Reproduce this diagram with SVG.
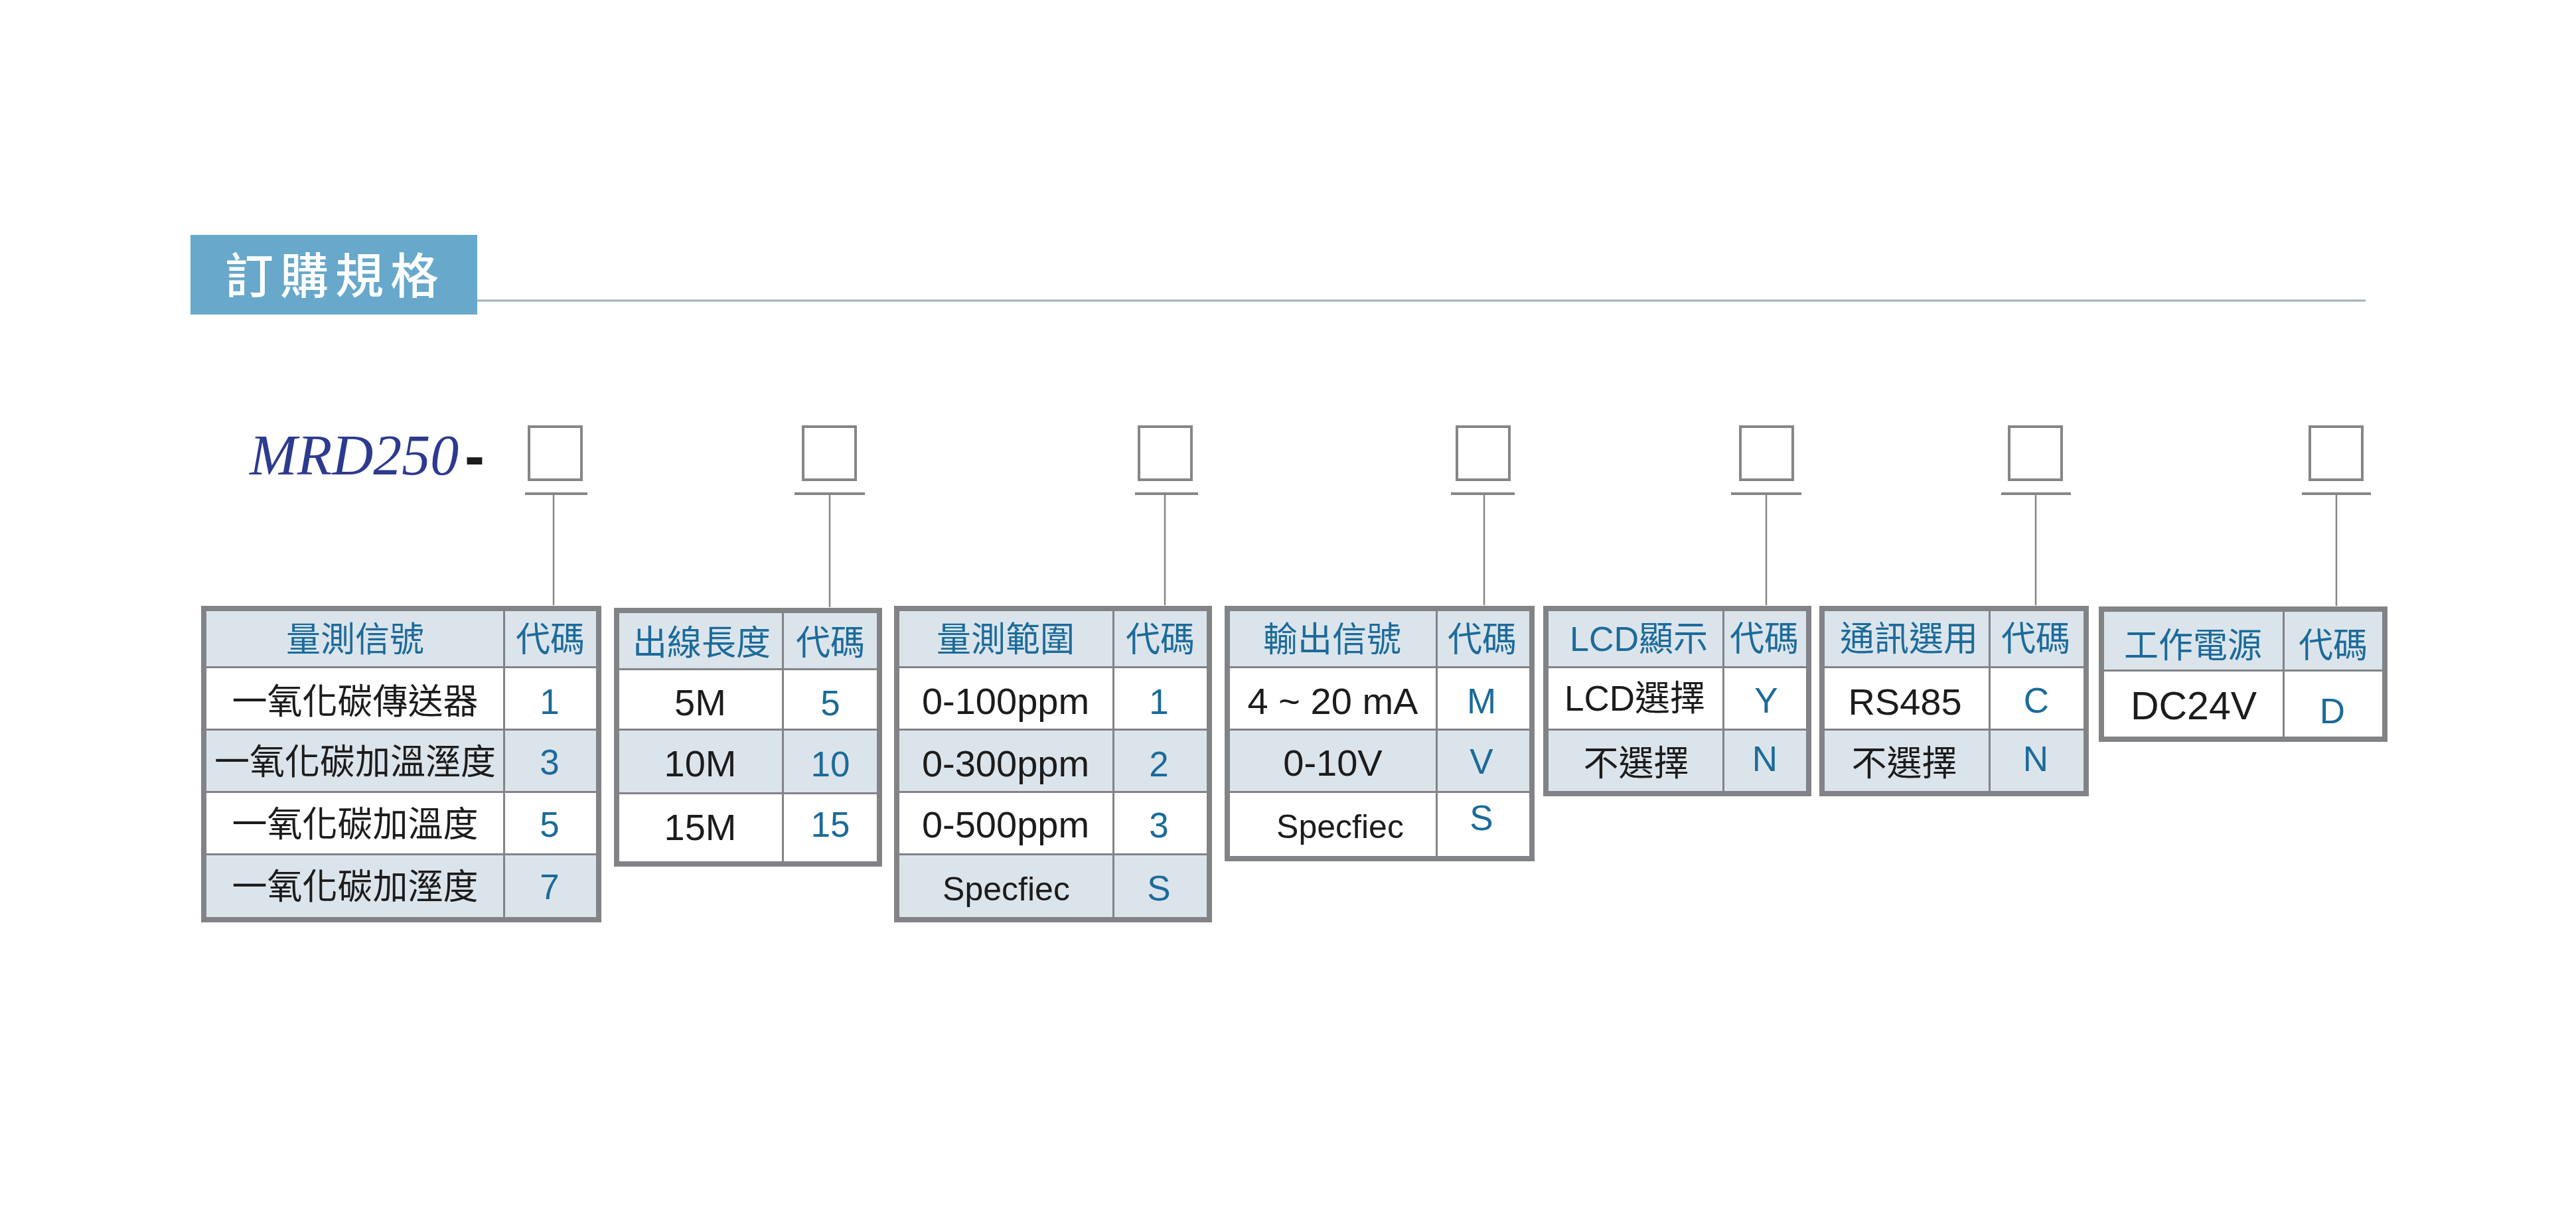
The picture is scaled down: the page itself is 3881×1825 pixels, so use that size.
<svg xmlns="http://www.w3.org/2000/svg" width="3881" height="1825" viewBox="0 0 3881 1825">
<style>
.bd{fill:#818387}
.h{fill:#dce4eb}
.w{fill:#ffffff}
.t{font-family:"Liberation Sans","Noto Sans CJK TC",sans-serif;text-anchor:middle}
.bl{fill:#1b6b9a}
.bk{fill:#1c1c1c}
.cj{font-size:53px}
.hd{font-size:52px}
.v{font-size:56px}
.c{font-size:53px}
.sp{font-size:50px}
.slot{fill:#ffffff;stroke:#868686;stroke-width:4}
.tick{stroke:#868686;stroke-width:4;fill:none}
.vl{stroke:#868686;stroke-width:2.5;fill:none}
</style>
<rect x="0" y="0" width="3881" height="1825" fill="#ffffff"/>
<g id="title">
<rect x="287" y="354" width="432" height="120" fill="#67a8cb"/>
<text x="339" y="442" font-family="'Noto Sans CJK TC',sans-serif" font-size="73" font-weight="500" letter-spacing="10" fill="#ffffff">訂購規格</text>
<line x1="719" y1="453" x2="3564" y2="453" stroke="#9db2bf" stroke-width="3"/>
</g>
<g id="model">
<text x="376" y="715" font-family="'Liberation Serif',serif" font-style="italic" font-size="86" fill="#2d3a8f">MRD250</text>
<text x="700" y="718" font-family="'Liberation Sans',sans-serif" font-weight="bold" font-size="90" fill="#1c1c1c">-</text>
</g>
<g id="slots">
<rect class="slot" x="797" y="643" width="79" height="80"/>
<rect class="slot" x="1210" y="643" width="79" height="80"/>
<rect class="slot" x="1716" y="643" width="79" height="80"/>
<rect class="slot" x="2195" y="643" width="79" height="80"/>
<rect class="slot" x="2622" y="643" width="79" height="80"/>
<rect class="slot" x="3027" y="643" width="79" height="80"/>
<rect class="slot" x="3480" y="643" width="79" height="80"/>
</g>
<g id="connectors">
<line class="tick" x1="791" y1="744" x2="885" y2="744"/>
<line class="vl" x1="834" y1="744" x2="834" y2="912"/>
<line class="tick" x1="1197" y1="744" x2="1303" y2="744"/>
<line class="vl" x1="1250" y1="744" x2="1250" y2="915"/>
<line class="tick" x1="1710" y1="744" x2="1805" y2="744"/>
<line class="vl" x1="1755" y1="744" x2="1755" y2="912"/>
<line class="tick" x1="2186" y1="744" x2="2282" y2="744"/>
<line class="vl" x1="2236" y1="744" x2="2236" y2="912"/>
<line class="tick" x1="2608" y1="744" x2="2714" y2="744"/>
<line class="vl" x1="2661" y1="744" x2="2661" y2="912"/>
<line class="tick" x1="3015" y1="744" x2="3120" y2="744"/>
<line class="vl" x1="3067" y1="744" x2="3067" y2="912"/>
<line class="tick" x1="3468" y1="744" x2="3572" y2="744"/>
<line class="vl" x1="3520" y1="744" x2="3520" y2="913"/>
</g>
<g id="table-signal">
<rect class="bd" x="303" y="913" width="603" height="477"/>
<rect class="h" x="311" y="921" width="447" height="83"/><rect class="h" x="761" y="921" width="137" height="83"/>
<rect class="w" x="311" y="1007" width="447" height="91"/><rect class="w" x="761" y="1007" width="137" height="91"/>
<rect class="h" x="311" y="1101" width="447" height="91"/><rect class="h" x="761" y="1101" width="137" height="91"/>
<rect class="w" x="311" y="1195" width="447" height="91"/><rect class="w" x="761" y="1195" width="137" height="91"/>
<rect class="h" x="311" y="1289" width="447" height="93"/><rect class="h" x="761" y="1289" width="137" height="93"/>
<text class="t bl hd" x="535" y="982">量測信號</text><text class="t bl hd" x="829" y="982">代碼</text>
<text class="t bk cj" x="535" y="1076">一氧化碳傳送器</text><text class="t bl c" x="828" y="1076">1</text>
<text class="t bk cj" x="535" y="1167">一氧化碳加溫溼度</text><text class="t bl c" x="828" y="1167">3</text>
<text class="t bk cj" x="535" y="1261">一氧化碳加溫度</text><text class="t bl c" x="828" y="1261">5</text>
<text class="t bk cj" x="535" y="1355">一氧化碳加溼度</text><text class="t bl c" x="828" y="1355">7</text>
</g>
<g id="table-length">
<rect class="bd" x="925" y="916" width="404" height="390"/>
<rect class="h" x="933" y="924" width="245" height="83"/><rect class="h" x="1181" y="924" width="140" height="83"/>
<rect class="w" x="933" y="1010" width="245" height="88"/><rect class="w" x="1181" y="1010" width="140" height="88"/>
<rect class="h" x="933" y="1101" width="245" height="93"/><rect class="h" x="1181" y="1101" width="140" height="93"/>
<rect class="w" x="933" y="1197" width="245" height="101"/><rect class="w" x="1181" y="1197" width="140" height="101"/>
<text class="t bl hd" x="1057" y="987">出線長度</text><text class="t bl hd" x="1251" y="987">代碼</text>
<text class="t bk v" x="1055" y="1078">5M</text><text class="t bl c" x="1251" y="1078">5</text>
<text class="t bk v" x="1055" y="1170">10M</text><text class="t bl c" x="1251" y="1170">10</text>
<text class="t bk v" x="1055" y="1266">15M</text><text class="t bl c" x="1251" y="1261">15</text>
</g>
<g id="table-range">
<rect class="bd" x="1347" y="913" width="479" height="477"/>
<rect class="h" x="1355" y="921" width="321" height="83"/><rect class="h" x="1679" y="921" width="139" height="83"/>
<rect class="w" x="1355" y="1007" width="321" height="91"/><rect class="w" x="1679" y="1007" width="139" height="91"/>
<rect class="h" x="1355" y="1101" width="321" height="91"/><rect class="h" x="1679" y="1101" width="139" height="91"/>
<rect class="w" x="1355" y="1195" width="321" height="91"/><rect class="w" x="1679" y="1195" width="139" height="91"/>
<rect class="h" x="1355" y="1289" width="321" height="93"/><rect class="h" x="1679" y="1289" width="139" height="93"/>
<text class="t bl hd" x="1515" y="982">量測範圍</text><text class="t bl hd" x="1748" y="982">代碼</text>
<text class="t bk v" x="1515" y="1076">0-100ppm</text><text class="t bl c" x="1746" y="1076">1</text>
<text class="t bk v" x="1515" y="1170">0-300ppm</text><text class="t bl c" x="1746" y="1170">2</text>
<text class="t bk v" x="1515" y="1262">0-500ppm</text><text class="t bl c" x="1746" y="1262">3</text>
<text class="t bk sp" x="1516" y="1357">Specfiec</text><text class="t bl c" x="1746" y="1357">S</text>
</g>
<g id="table-output">
<rect class="bd" x="1845" y="913" width="467" height="385"/>
<rect class="h" x="1853" y="921" width="310" height="83"/><rect class="h" x="2166" y="921" width="138" height="83"/>
<rect class="w" x="1853" y="1007" width="310" height="91"/><rect class="w" x="2166" y="1007" width="138" height="91"/>
<rect class="h" x="1853" y="1101" width="310" height="91"/><rect class="h" x="2166" y="1101" width="138" height="91"/>
<rect class="w" x="1853" y="1195" width="310" height="95"/><rect class="w" x="2166" y="1195" width="138" height="95"/>
<text class="t bl hd" x="2007" y="982">輸出信號</text><text class="t bl hd" x="2233" y="982">代碼</text>
<text class="t bk v" x="2008" y="1076">4 ~ 20 mA</text><text class="t bl c" x="2232" y="1075">M</text>
<text class="t bk v" x="2008" y="1169">0-10V</text><text class="t bl c" x="2232" y="1166">V</text>
<text class="t bk sp" x="2019" y="1263">Specfiec</text><text class="t bl c" x="2232" y="1251">S</text>
</g>
<g id="table-lcd">
<rect class="bd" x="2325" y="913" width="404" height="287"/>
<rect class="h" x="2333" y="921" width="262" height="83"/><rect class="h" x="2598" y="921" width="123" height="83"/>
<rect class="w" x="2333" y="1007" width="262" height="91"/><rect class="w" x="2598" y="1007" width="123" height="91"/>
<rect class="h" x="2333" y="1101" width="262" height="91"/><rect class="h" x="2598" y="1101" width="123" height="91"/>
<text class="t bl hd" x="2469" y="981">LCD顯示</text><text class="t bl hd" x="2658" y="981">代碼</text>
<text class="t bk cj" x="2463" y="1071">LCD選擇</text><text class="t bl c" x="2661" y="1074">Y</text>
<text class="t bk cj" x="2465" y="1169">不選擇</text><text class="t bl c" x="2659" y="1162">N</text>
</g>
<g id="table-comm">
<rect class="bd" x="2741" y="913" width="406" height="287"/>
<rect class="h" x="2749" y="921" width="247" height="83"/><rect class="h" x="2999" y="921" width="140" height="83"/>
<rect class="w" x="2749" y="1007" width="247" height="91"/><rect class="w" x="2999" y="1007" width="140" height="91"/>
<rect class="h" x="2749" y="1101" width="247" height="91"/><rect class="h" x="2999" y="1101" width="140" height="91"/>
<text class="t bl hd" x="2876" y="981">通訊選用</text><text class="t bl hd" x="3067" y="981">代碼</text>
<text class="t bk v" x="2870" y="1077">RS485</text><text class="t bl c" x="3068" y="1074">C</text>
<text class="t bk cj" x="2869" y="1169">不選擇</text><text class="t bl c" x="3067" y="1162">N</text>
</g>
<g id="table-power">
<rect class="bd" x="3162" y="914" width="435" height="204"/>
<rect class="h" x="3170" y="922" width="269" height="87"/><rect class="h" x="3442" y="922" width="147" height="87"/>
<rect class="w" x="3170" y="1012" width="269" height="98"/><rect class="w" x="3442" y="1012" width="147" height="98"/>
<text class="t bl hd" x="3304" y="991">工作電源</text><text class="t bl hd" x="3515" y="991">代碼</text>
<text class="t bk" x="3305" y="1084" font-size="59">DC24V</text><text class="t bl c" x="3514" y="1090">D</text>
</g>
</svg>
